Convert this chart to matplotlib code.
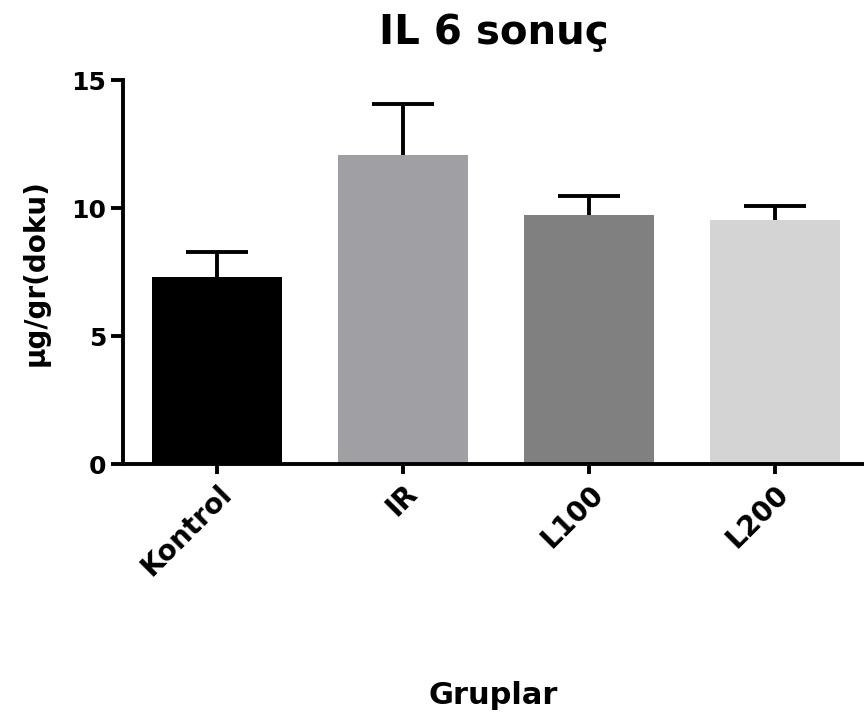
import matplotlib
matplotlib.use('Agg')
import matplotlib.pyplot as plt

groups = ['Kontrol', 'IR', 'L100', 'L200']
means = [7.30, 12.07, 9.73, 9.53]
errors = [0.98, 1.99, 0.74, 0.55]
colors = ['#000000', '#a0a0a4', '#808080', '#d4d4d4']

plt.rcParams['font.family'] = ['DejaVu Sans']
plt.rcParams['font.weight'] = 'bold'

fig = plt.figure(figsize=(8.64, 7.22), dpi=100)
ax = fig.add_axes([0.142, 0.357, 0.858, 0.532])

x = range(len(groups))
# symmetric error bars drawn behind the bars, so only the upper half shows
ax.errorbar(x, means, yerr=errors, fmt='none', ecolor='black',
            elinewidth=2.8, capsize=22, capthick=2.8, zorder=1)
ax.bar(x, means, width=0.7, color=colors, zorder=2)

ax.set_ylim(0, 15)
ax.set_xlim(-0.51, 3.48)
ax.set_yticks([0, 5, 10, 15])
ax.set_xticks(list(x))
ax.set_xticklabels(groups, rotation=45, ha='right', rotation_mode='anchor')

for s in ['top', 'right']:
    ax.spines[s].set_visible(False)
for s in ['left', 'bottom']:
    ax.spines[s].set_linewidth(2.8)

ax.tick_params(axis='y', width=2.8, length=9, labelsize=18, pad=3)
ax.tick_params(axis='x', width=2.8, length=7, labelsize=20, pad=4)
for lbl in ax.get_xticklabels() + ax.get_yticklabels():
    lbl.set_fontweight('bold')

ax.set_ylabel('µg/gr(doku)', fontsize=20, fontweight='bold')
ax.yaxis.set_label_coords(-0.098, 0.5)
ax.set_xlabel('Gruplar', fontsize=22, fontweight='bold')
ax.xaxis.set_label_coords(0.5, -0.565)
ax.set_title('IL 6 sonuç', fontsize=29, fontweight='bold', pad=26)

plt.savefig('out.png', dpi=100)
